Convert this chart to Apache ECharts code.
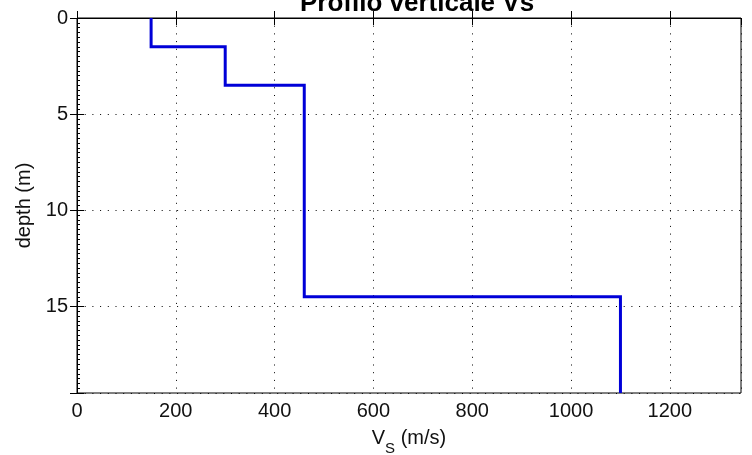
<!DOCTYPE html>
<html>
<head>
<meta charset="utf-8">
<script src="https://cdn.jsdelivr.net/npm/echarts@6/dist/echarts.min.js"></script>
<style>html,body{margin:0;padding:0;background:#fff}#c{width:752px;height:455px}</style>
</head>
<body>
<div id="c"></div>
<script>
// Layer data
const vsValues = [150, 300, 460, 1100];
const layerTop = [0, 1.5, 3.5, 14.5];
const layerBottom = [1.5, 3.5, 14.5, 19.5];
const xTickLabels = [0, 200, 400, 600, 800, 1000, 1200];
const yTickLabels = [0, 5, 10, 15];
const xMax = 1344;
const yMax = 19.5;

const profile = [];
for (let i = 0; i < vsValues.length; i++) {
  profile.push([vsValues[i], layerTop[i]]);
  profile.push([vsValues[i], layerBottom[i]]);
}

const font = 'Liberation Sans, Arial, sans-serif';
const dotted = { color: '#000', width: 1, type: [1, 6.7] };

const chart = echarts.init(document.getElementById('c'), null, { renderer: 'canvas' });
chart.setOption({
  animation: false,
  backgroundColor: '#fff',
  title: {
    text: 'Profilo verticale Vs',
    left: 300, top: -9, padding: 0,
    textStyle: { fontFamily: font, fontSize: 26, fontWeight: 'bold', color: '#000' }
  },
  grid: { left: 77, right: 11, top: 18, bottom: 62, show: true, borderColor: '#000', borderWidth: 1, backgroundColor: '#fff', outerBoundsMode: 'none', containLabel: false },
  xAxis: [{
    type: 'value', min: 0, max: xMax, interval: 200, position: 'bottom',
    axisLine: { show: true, lineStyle: { color: '#000', width: 1 } },
    axisTick: { show: true, inside: true, length: 7, lineStyle: { color: '#000' } },
    splitLine: { show: true, lineStyle: dotted },
    axisLabel: {
      showMaxLabel: false, fontFamily: font, fontSize: 20, color: '#111', margin: 8,
      formatter: v => (xTickLabels.indexOf(v) >= 0 ? String(v) : '')
    },
    name: '{v|V}{s|S}{v| (m/s)}', nameLocation: 'middle', nameGap: 33,
    nameTextStyle: {
      rich: {
        v: { fontFamily: font, fontSize: 20, color: '#111', verticalAlign: 'bottom', lineHeight: 22 },
        s: { fontFamily: font, fontSize: 15, color: '#111', verticalAlign: 'bottom', padding: [0, 0, -8, 0], lineHeight: 22 }
      }
    }
  }, {
    type: 'value', min: 0, max: xMax, interval: 200, position: 'top',
    axisLine: { show: true, lineStyle: { color: '#000', width: 1 } },
    axisTick: { show: true, inside: true, length: 7, lineStyle: { color: '#000' } },
    splitLine: { show: false }, axisLabel: { show: false }
  }],
  yAxis: [{
    type: 'value', inverse: true, min: 0, max: yMax, interval: 5, position: 'left',
    axisLine: { show: true, lineStyle: { color: '#000', width: 1 } },
    axisTick: { show: true, inside: true, length: 7, lineStyle: { color: '#000' } },
    minorTick: { show: true, splitNumber: 20, length: 3, lineStyle: { color: '#000' } },
    splitLine: { show: true, lineStyle: dotted },
    axisLabel: {
      showMaxLabel: false, fontFamily: font, fontSize: 20, color: '#111', margin: 9,
      formatter: v => (yTickLabels.indexOf(v) >= 0 ? String(v) : '')
    },
    name: 'depth (m)', nameLocation: 'middle', nameGap: 42,
    nameTextStyle: { fontFamily: font, fontSize: 20, color: '#111' }
  }, {
    type: 'value', inverse: true, min: 0, max: yMax, interval: 5, position: 'right',
    axisLine: { show: true, lineStyle: { color: '#000', width: 1 } },
    axisTick: { show: true, inside: true, length: 7, lineStyle: { color: '#000' } },
    splitLine: { show: false }, axisLabel: { show: false }
  }],
  series: [{
    type: 'line', data: profile, xAxisIndex: 0, yAxisIndex: 0,
    showSymbol: false, symbol: 'none',
    lineStyle: { color: '#0000d8', width: 3, join: 'miter' },
    z: 5
  }]
});
</script>
</body>
</html>
